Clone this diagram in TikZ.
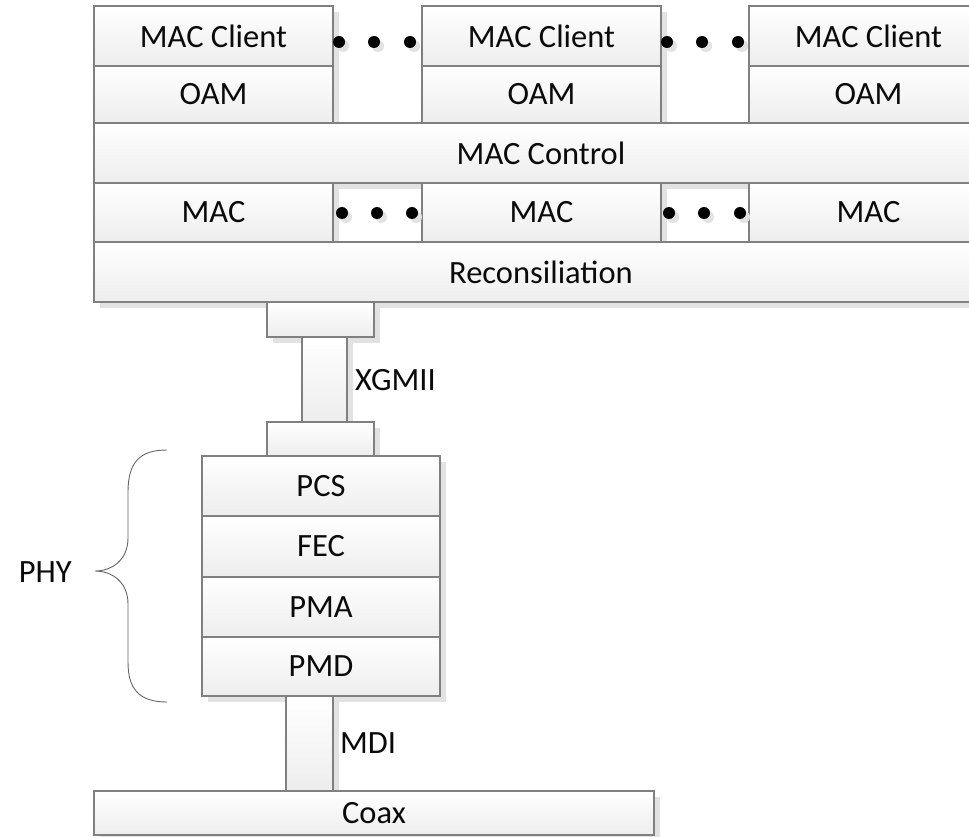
\documentclass[tikz,border=0pt]{standalone}
\usepackage{fontspec}
\setmainfont{Carlito}
\usetikzlibrary{shadows}
\definecolor{edgegray}{HTML}{808080}
\definecolor{shadgray}{HTML}{E2E2E2}
\definecolor{txt}{HTML}{0A0A0A}
\tikzset{
  layer/.style={draw=edgegray, line width=1.1pt, top color=white, bottom color=black!7,
    inner sep=0pt, outer sep=0pt, text=txt, font=\fontsize{32.5}{38}\selectfont,
    general shadow={fill=shadgray, shadow xshift=6pt, shadow yshift=-6pt}},
  ddot/.style={circle, fill=black, inner sep=0pt, minimum size=12pt,
    general shadow={fill=shadgray, shadow xshift=4pt, shadow yshift=-4pt}},
  lbl/.style={inner sep=0pt, text=txt, font=\fontsize{32.5}{38}\selectfont},
  bracestyle/.style={draw=black!60, line width=0.9pt}
}
\begin{document}
\begin{tikzpicture}[x=1pt, y=-1pt]
\clip (0,0) rectangle (969,837);
\fill[white] (0,0) rectangle (969,837);
% top row
\node[layer, minimum width=239pt, minimum height=60pt] (mc1) at (213.5,36) {MAC Client};
\node[layer, minimum width=239pt, minimum height=60pt] (mc2) at (541.5,36) {MAC Client};
\node[layer, minimum width=239pt, minimum height=60pt] (mc3) at (868.5,36) {MAC Client};
\node[layer, minimum width=239pt, minimum height=57pt] (oam1) at (213.5,94.5) {OAM};
\node[layer, minimum width=239pt, minimum height=57pt] (oam2) at (541.5,94.5) {OAM};
\node[layer, minimum width=239pt, minimum height=57pt] (oam3) at (868.5,94.5) {OAM};
\node[ddot] (d1) at (339,42) {};
\node[ddot] (d2) at (374,42) {};
\node[ddot] (d3) at (410,42) {};
\node[ddot] (d4) at (667,42) {};
\node[ddot] (d5) at (702,42) {};
\node[ddot] (d6) at (738,42) {};
% MAC control
\node[layer, minimum width=894pt, minimum height=60pt] (macctl) at (541,153) {MAC Control};
% MAC row
\node[layer, minimum width=239pt, minimum height=59pt] (mac1) at (213.5,212.5) {MAC};
\node[layer, minimum width=239pt, minimum height=59pt] (mac2) at (541.5,212.5) {MAC};
\node[layer, minimum width=239pt, minimum height=59pt] (mac3) at (868.5,212.5) {MAC};
\draw[draw=edgegray, line width=1.1pt] (mac1.north east) -- (mac2.north west);
\draw[draw=edgegray, line width=1.1pt] (mac2.north east) -- (mac3.north west);
\node[ddot] (d7) at (342,213) {};
\node[ddot] (d8) at (377,213) {};
\node[ddot] (d9) at (412,213) {};
\node[ddot] (d10) at (669,213) {};
\node[ddot] (d11) at (704,213) {};
\node[ddot] (d12) at (740,213) {};
% Reconciliation
\node[layer, minimum width=894pt, minimum height=60pt] (recon) at (541,272) {Reconsiliation};
% XGMII
\node[layer, minimum width=107pt, minimum height=35pt] (xg1) at (320.5,319.5) {};
\node[layer, minimum width=45pt, minimum height=85pt] (xgbar) at (324.5,379.5) {};
\node[layer, minimum width=107pt, minimum height=34pt] (xg2) at (320.5,439) {};
\node[lbl, anchor=west] (xgmii) at (355,380) {XGMII};
% PHY stack
\node[layer, minimum width=238pt, minimum height=60pt] (pcs) at (321,486) {PCS};
\node[layer, minimum width=238pt, minimum height=61pt] (fec) at (321,546.5) {FEC};
\node[layer, minimum width=238pt, minimum height=60pt] (pma) at (321,607) {PMA};
\node[layer, minimum width=238pt, minimum height=59pt] (pmd) at (321,666.5) {PMD};
% MDI
\node[layer, minimum width=47pt, minimum height=95pt] (mdibar) at (309.5,743.5) {};
\node[lbl, anchor=west] (mdi) at (340,743) {MDI};
% Coax
\node[layer, minimum width=560pt, minimum height=44pt] (coax) at (374,813) {Coax};
% PHY brace
\coordinate (btop) at (167,450);
\coordinate (btip) at (95,571);
\coordinate (bbot) at (167,702);
\draw[bracestyle] (btop) .. controls (140,450) and (128,462) .. (128,492)
  -- (128,538) .. controls (128,560) and (112,571) .. (btip)
  .. controls (112,571) and (128,582) .. (128,604)
  -- (128,662) .. controls (128,690) and (140,702) .. (bbot);
\node[lbl, anchor=east] (phy) at (72,572) {PHY};
\end{tikzpicture}
\end{document}
